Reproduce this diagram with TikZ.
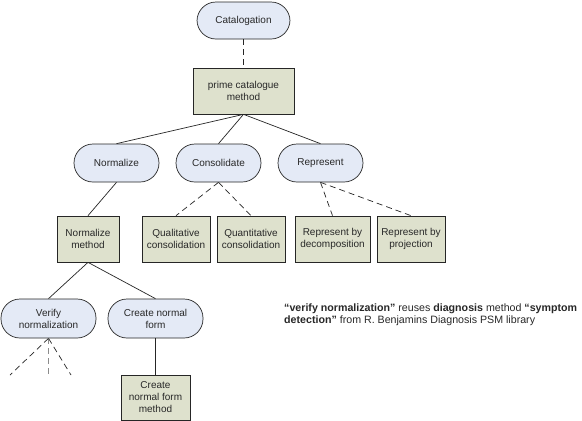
\documentclass[tikz,border=0pt]{standalone}
\usepackage{fontspec}
\setmainfont{Liberation Sans}
\definecolor{pillfill}{RGB}{228,234,246}
\definecolor{boxfill}{RGB}{222,225,205}
\definecolor{txt}{RGB}{40,40,40}
\begin{document}
\begin{tikzpicture}[x=1pt,y=-1pt,
  every node/.style={font=\fontsize{10}{12}\selectfont, text=txt, align=center, inner sep=1pt},
  pill/.style={draw=black!85, fill=pillfill, line width=0.7pt, rounded corners=19pt, minimum height=38pt, minimum width=85pt},
  pilltwo/.style={pill, minimum width=95pt, minimum height=39pt},
  mbox/.style={draw=black!85, fill=boxfill, line width=0.7pt, minimum height=46pt},
  conn/.style={line width=0.7pt, draw=black!85},
  dconn/.style={conn, dash pattern=on 6pt off 4pt}]
\useasboundingbox (0,0) rectangle (582,421);
\fill[white] (0,0) rectangle (582,421);

\node[pill, minimum width=93pt, minimum height=37pt] (cat) at (243.5,20.5) {Catalogation};
\node[mbox, minimum width=101pt] (prime) at (243.5,91) {prime catalogue\\method};

\node[pill] (norm) at (116.5,163) {Normalize};
\node[pill] (cons) at (218.5,163) {Consolidate};
\node[pill] (repr) at (320.5,163) {Represent};

\node[mbox, minimum width=62pt] (normm) at (88,239) {Normalize\\method};
\node[mbox, minimum width=68pt] (qual) at (176,239) {Qualitative\\consolidation};
\node[mbox, minimum width=68pt] (quant) at (251,239) {Quantitative\\consolidation};
\node[mbox, minimum width=75pt] (decomp) at (332.5,239) {Represent by\\decomposition};
\node[mbox, minimum width=68pt] (proj) at (411,239) {Represent by\\projection};

\node[pilltwo] (verify) at (48.5,318.5) {Verify\\normalization};
\node[pilltwo] (create) at (155.5,318.5) {Create normal\\form};
\node[mbox, minimum width=69pt, minimum height=45pt] (createm) at (155.5,397.5) {Create\\normal form\\method};

\node[anchor=north west, align=left, inner sep=0pt, font=\fontsize{10.65}{12}\selectfont] (note) at (284,304)
  {\textbf{“verify normalization”} reuses \textbf{diagnosis} method \textbf{“symptom}\\
   \textbf{detection”} from R. Benjamins Diagnosis PSM library};

\coordinate (v1) at (10,375);
\coordinate (v2) at (48.5,375);
\coordinate (v3) at (71,375);

\draw[dconn] (cat) -- (prime);
\draw[conn] (prime.south) -- (norm.north);
\draw[conn] (prime.south) -- (cons.north);
\draw[conn] (prime.south) -- (repr.north);
\draw[conn] (norm.south) -- (normm.north);
\draw[dconn] (cons.south) -- (qual.north);
\draw[dconn] (cons.south) -- (quant.north);
\draw[dconn] (repr.south) -- (decomp.north);
\draw[dconn] (repr.south) -- (proj.north);
\draw[conn] (normm.south) -- (verify.north);
\draw[conn] (normm.south) -- (create.north);
\draw[conn] (create.south) -- (createm.north);
\draw[dconn] (verify.south) -- (v1);
\draw[dconn, draw=black!45] (verify.south) -- (v2);
\draw[dconn] (verify.south) -- (v3);
\end{tikzpicture}
\end{document}
